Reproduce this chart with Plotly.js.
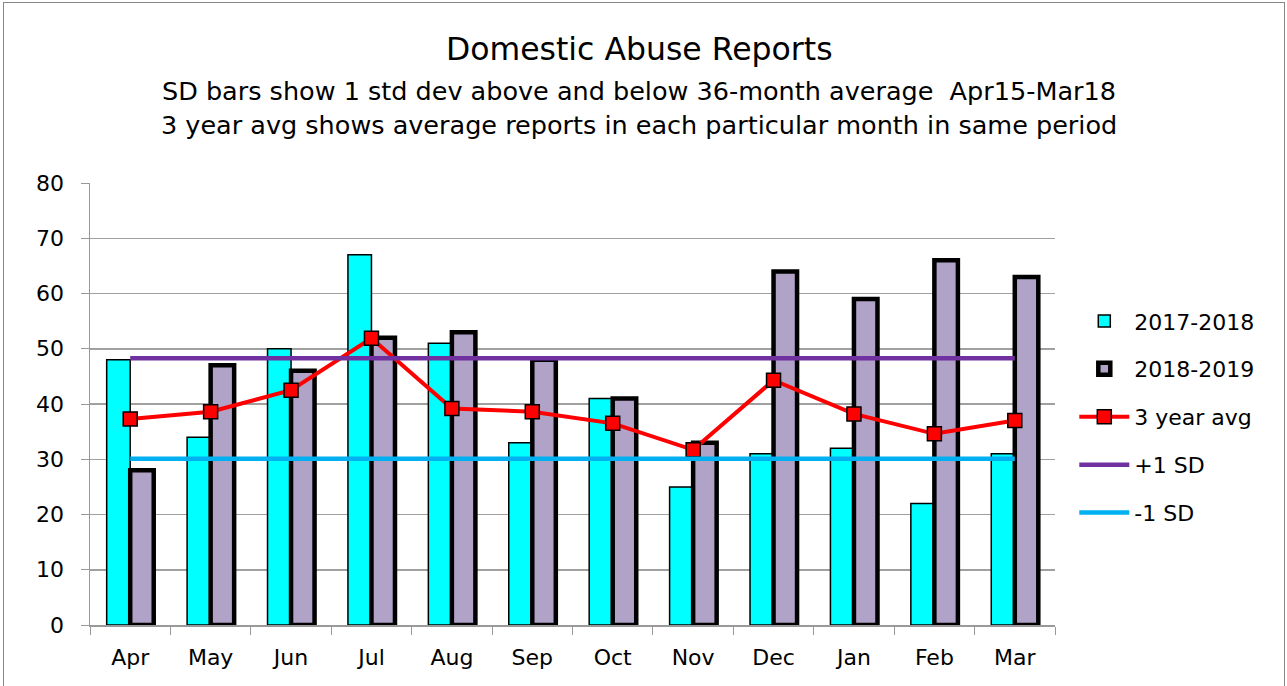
<!DOCTYPE html>
<html><head><meta charset="utf-8">
<script src="https://cdn.plot.ly/plotly-3.0.1.min.js"></script>
<style>
html,body{margin:0;padding:0;background:#fff;}
#frame{position:absolute;left:3px;top:2px;width:1282px;height:684px;border:1px solid #888;border-bottom:none;box-sizing:border-box;}
#chart{position:absolute;left:0;top:0;width:1287px;height:686px;}
</style>
</head><body>
<div id="frame"></div>
<div id="chart"></div>
<script>
const months = ["Apr","May","Jun","Jul","Aug","Sep","Oct","Nov","Dec","Jan","Feb","Mar"];
const y2017 = [48,34,50,67,51,33,41,25,31,32,22,31];
const y2018 = [28,47,46,52,53,48,41,33,64,59,66,63];
const avg3 = [37.3,38.6,42.5,51.9,39.2,38.6,36.5,31.7,44.3,38.2,34.6,37.0];
const plusSD = 48.3;
const minusSD = 30.1;

const F = "Tahoma, 'DejaVu Sans', Verdana, sans-serif";

const traces = [
  {type:"bar", name:"2017-2018", x:months, y:y2017, legendgroup:"a",
   marker:{color:"#00FFFF", line:{color:"#000", width:1.5}}},
  {type:"bar", name:"2018-2019", x:months, y:y2018, legendgroup:"b",
   marker:{color:"#B1A3C8", line:{color:"#000", width:4.5}}},
  {type:"scatter", mode:"lines+markers", name:"3 year avg", x:months, y:avg3, legendgroup:"c",
   line:{color:"#FF0000", width:4},
   marker:{symbol:"square", size:14, color:"#FF0000", line:{color:"#000", width:1.5}}},
  {type:"scatter", mode:"lines", name:"+1 SD", x:months, y:months.map(()=>plusSD), legendgroup:"d",
   line:{color:"#7030A0", width:4.5}},
  {type:"scatter", mode:"lines", name:"-1 SD", x:months, y:months.map(()=>minusSD), legendgroup:"e",
   line:{color:"#00B0F0", width:4.5}}
];

const layout = {
  width:1287, height:686,
  margin:{l:90, r:232, t:183, b:61},
  paper_bgcolor:"rgba(0,0,0,0)", plot_bgcolor:"#fff",
  font:{family:F, size:22, color:"#000"},
  barmode:"group", bargap:0.415, bargroupgap:0,
  showlegend:true,
  legend:{x:1.02, xanchor:"left", y:0.735, yanchor:"top", font:{family:F, size:22},
          tracegroupgap:16.3, itemwidth:50},
  xaxis:{type:"category", range:[-0.5,11.5], showline:true, linecolor:"#999", linewidth:1.5,
         ticks:"outside", ticklen:8, tickcolor:"#999", tickson:"boundaries",
         ticklabelstandoff:12,
         tickfont:{family:F, size:22}, showgrid:false},
  yaxis:{range:[0,80], dtick:10, showline:true, linecolor:"#999", linewidth:1.5,
         ticks:"outside", ticklen:8, tickcolor:"#999", ticklabelstandoff:12,
         gridcolor:"#A0A0A0", gridwidth:1.5, zeroline:false,
         tickfont:{family:F, size:22}},
  annotations:[
    {text:"Domestic Abuse Reports", xref:"paper", yref:"paper", x:0.5694, y:1.303,
     showarrow:false, font:{family:F, size:31.5}, xanchor:"center", yanchor:"middle"},
    {text:"SD bars show 1 std dev above and below 36-month average  Apr15-Mar18", xref:"paper", yref:"paper", x:0.5694, y:1.208,
     showarrow:false, font:{family:F, size:25.5}, xanchor:"center", yanchor:"middle"},
    {text:"3 year avg shows average reports in each particular month in same period", xref:"paper", yref:"paper", x:0.5694, y:1.131,
     showarrow:false, font:{family:F, size:25.5}, xanchor:"center", yanchor:"middle"}
  ]
};

Plotly.newPlot("chart", traces, layout, {displayModeBar:false, staticPlot:true});
</script>
</body></html>
